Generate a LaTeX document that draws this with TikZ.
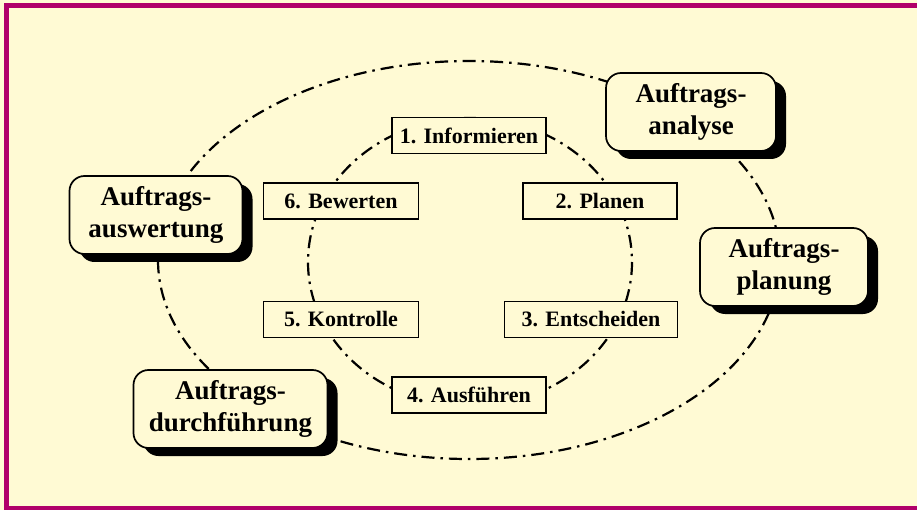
\documentclass[tikz,border=0pt]{standalone}
\usepackage{fontspec}
\setmainfont{Liberation Serif}
\definecolor{framemagenta}{HTML}{B0006A}
\definecolor{cream}{HTML}{FFFAD4}
\usetikzlibrary{shadows}
\tikzset{
  phase/.style={
    draw=black, line width=1.6pt, fill=cream,
    minimum width=#1, minimum height=36pt, inner sep=0pt,
    font=\fontsize{22}{26}\selectfont\bfseries
  },
  phase/.default=154pt,
  stage/.style={
    draw=black, line width=1.7pt, fill=cream, rounded corners=15pt,
    minimum width=#1, minimum height=78pt, inner sep=0pt, align=center,
    font=\fontsize{27}{32}\selectfont\bfseries,
    drop shadow={shadow xshift=10pt, shadow yshift=-8pt,
      fill=black, opacity=1}
  },
  stage/.default=170pt,
  ring/.style={line width=2.2pt, dash pattern=on 13pt off 6pt on 2.5pt off 6pt},
}

\begin{document}
\begin{tikzpicture}[x=1pt, y=-1pt]
    \clip (0,0) rectangle (917,510);
    \fill[cream] (0,0) rectangle (917,510);
    \draw[framemagenta, line width=5pt] (6.5,5.8) rectangle (930,508);

    % outer and inner cycle
    \draw[ring] (469,260) ellipse [x radius=311, y radius=199];
    \draw[ring] (470,262) ellipse [x radius=162, y radius=144];

    \node[stage=170pt] (analyse) at (691,112) {Auftrags-\\analyse};
    \node[stage=168pt] (planung) at (784,267) {Auftrags-\\planung};
    \node[stage=194pt] (durchf) at (230.5,409) {Auftrags-\\durchführung};
    \node[stage=173pt] (auswert) at (156,215) {Auftrags-\\auswertung};

    \node[phase] (info) at (469,135.5) {1. Informieren};
    \node[phase] (planen) at (600,201) {2. Planen};
    \node[phase=173pt] (entsch) at (591,319.5) {3. Entscheiden};
    \node[phase] (ausf) at (469,395) {4. Ausführen};
    \node[phase=155pt] (kontr) at (341,319.5) {5. Kontrolle};
    \node[phase=155pt] (bewert) at (341,201) {6. Bewerten};
\end{tikzpicture}
\end{document}
